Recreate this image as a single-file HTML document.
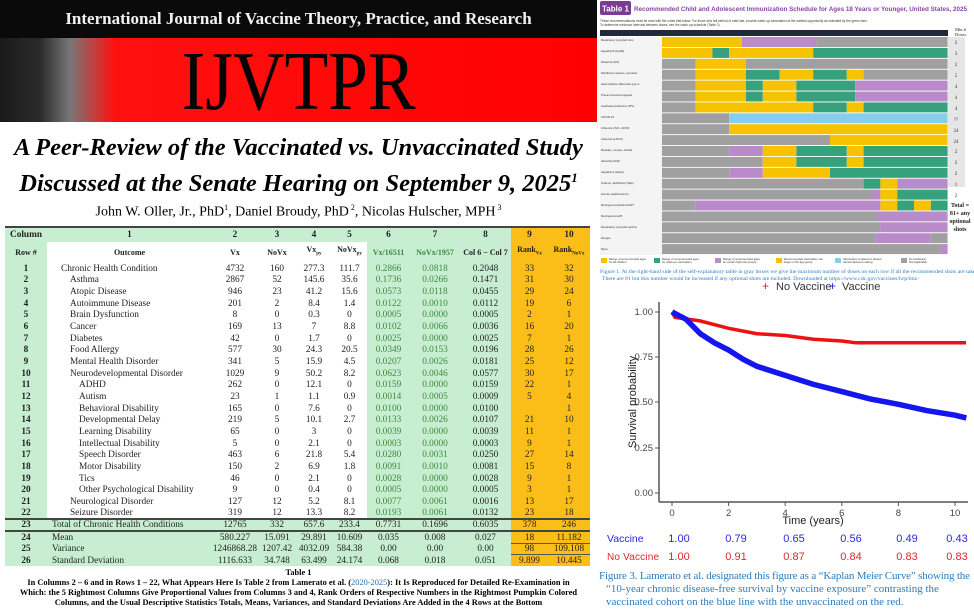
<!DOCTYPE html>
<html><head><meta charset="utf-8"><style>
*{margin:0;padding:0;box-sizing:border-box}
body{width:974px;height:611px;overflow:hidden;background:#fff;position:relative;font-family:"Liberation Serif",serif}
.abs{position:absolute}
#tbl{position:absolute;left:5px;top:226px;width:585px;border-collapse:collapse;table-layout:fixed;font-size:9.3px;font-family:"Liberation Serif",serif;color:#222}
#tbl td{height:11.67px;line-height:10px;padding:0;text-align:center;white-space:nowrap;overflow:hidden}
#tbl td.o{text-align:left}
#tbl tr.h td{font-size:8px;line-height:8px}
.g{background:#c8eed2}.w{background:#fff}.y{background:#fbbd17}
.gt{color:#3d8a3d}
.b{font-weight:bold}
tr.top td{border-top:2px solid #444}
</style></head><body>
<div class="abs" style="left:0;top:0;width:597px;height:38px;background:#0a0a0a"></div>
<div class="abs" style="left:0;top:9px;width:597px;text-align:center;color:#f2f2f2;font-weight:bold;font-size:17px;font-family:'Liberation Serif',serif">International Journal of Vaccine Theory, Practice, and Research</div>
<div class="abs" style="left:0;top:38px;width:597px;height:84px;background:linear-gradient(90deg,#1a1a1a 0px,#2a2a2a 40px,#777 70px,#ff1010 115px,#ff0000 100%)"></div>
<div class="abs" style="left:0;top:40px;width:597px;text-align:center;font-size:84px;line-height:84px;color:#050505;font-family:'Liberation Serif',serif;transform:scaleX(0.85)">IJVTPR</div>
<div class="abs" style="left:0;top:133px;width:597px;text-align:center;font-size:24.5px;font-weight:bold;font-style:italic;line-height:30px">A Peer-Review of the Vaccinated vs. Unvaccinated Study<br>Discussed at the Senate Hearing on September 9, 2025<sup style="font-size:13px">1</sup></div>
<div class="abs" style="left:0;top:203px;width:597px;text-align:center;font-size:14px">John W. Oller, Jr., PhD<sup style="font-size:8px">1</sup>, Daniel Broudy, PhD<sup style="font-size:8px"> 2</sup>, Nicolas Hulscher, MPH<sup style="font-size:8px"> 3</sup></div>

<table id="tbl">
<colgroup><col style="width:42px"><col style="width:165px"><col style="width:46px"><col style="width:38px"><col style="width:36px"><col style="width:35px"><col style="width:43px"><col style="width:50px"><col style="width:51px"><col style="width:37px"><col style="width:42px"></colgroup>
<tr class="top b"><td class="g" style="height:15px">Column</td><td class="g">1</td><td class="g">2</td><td class="g">3</td><td class="g">4</td><td class="g">5</td><td class="g">6</td><td class="g">7</td><td class="g">8</td><td class="y">9</td><td class="y">10</td></tr>
<tr class="b h"><td class="g" style="height:21px">Row #</td><td class="w">Outcome</td><td class="w">Vx</td><td class="w">NoVx</td><td class="w">Vx<sub style="font-size:5px">py</sub></td><td class="w">NoVx<sub style="font-size:5px">py</sub></td><td class="g gt">Vx/16511</td><td class="g gt">NoVx/1957</td><td class="g" style="white-space:normal">Col 6 − Col 7</td><td class="y">Rank<sub style="font-size:5px">Vx</sub></td><td class="y">Rank<sub style="font-size:5px">NoVx</sub></td></tr>
<tr><td class="g b">1</td><td class="w o" style="padding-left:14px">Chronic Health Condition</td><td class="w">4732</td><td class="w">160</td><td class="w">277.3</td><td class="w">111.7</td><td class="g gt">0.2866</td><td class="g gt">0.0818</td><td class="g">0.2048</td><td class="y">33</td><td class="y">32</td></tr>
<tr><td class="g b">2</td><td class="w o" style="padding-left:23px">Asthma</td><td class="w">2867</td><td class="w">52</td><td class="w">145.6</td><td class="w">35.6</td><td class="g gt">0.1736</td><td class="g gt">0.0266</td><td class="g">0.1471</td><td class="y">31</td><td class="y">30</td></tr>
<tr><td class="g b">3</td><td class="w o" style="padding-left:23px">Atopic Disease</td><td class="w">946</td><td class="w">23</td><td class="w">41.2</td><td class="w">15.6</td><td class="g gt">0.0573</td><td class="g gt">0.0118</td><td class="g">0.0455</td><td class="y">29</td><td class="y">24</td></tr>
<tr><td class="g b">4</td><td class="w o" style="padding-left:23px">Autoimmune Disease</td><td class="w">201</td><td class="w">2</td><td class="w">8.4</td><td class="w">1.4</td><td class="g gt">0.0122</td><td class="g gt">0.0010</td><td class="g">0.0112</td><td class="y">19</td><td class="y">6</td></tr>
<tr><td class="g b">5</td><td class="w o" style="padding-left:23px">Brain Dysfunction</td><td class="w">8</td><td class="w">0</td><td class="w">0.3</td><td class="w">0</td><td class="g gt">0.0005</td><td class="g gt">0.0000</td><td class="g">0.0005</td><td class="y">2</td><td class="y">1</td></tr>
<tr><td class="g b">6</td><td class="w o" style="padding-left:23px">Cancer</td><td class="w">169</td><td class="w">13</td><td class="w">7</td><td class="w">8.8</td><td class="g gt">0.0102</td><td class="g gt">0.0066</td><td class="g">0.0036</td><td class="y">16</td><td class="y">20</td></tr>
<tr><td class="g b">7</td><td class="w o" style="padding-left:23px">Diabetes</td><td class="w">42</td><td class="w">0</td><td class="w">1.7</td><td class="w">0</td><td class="g gt">0.0025</td><td class="g gt">0.0000</td><td class="g">0.0025</td><td class="y">7</td><td class="y">1</td></tr>
<tr><td class="g b">8</td><td class="w o" style="padding-left:23px">Food Allergy</td><td class="w">577</td><td class="w">30</td><td class="w">24.3</td><td class="w">20.5</td><td class="g gt">0.0349</td><td class="g gt">0.0153</td><td class="g">0.0196</td><td class="y">28</td><td class="y">26</td></tr>
<tr><td class="g b">9</td><td class="w o" style="padding-left:23px">Mental Health Disorder</td><td class="w">341</td><td class="w">5</td><td class="w">15.9</td><td class="w">4.5</td><td class="g gt">0.0207</td><td class="g gt">0.0026</td><td class="g">0.0181</td><td class="y">25</td><td class="y">12</td></tr>
<tr><td class="g b">10</td><td class="w o" style="padding-left:23px">Neurodevelopmental Disorder</td><td class="w">1029</td><td class="w">9</td><td class="w">50.2</td><td class="w">8.2</td><td class="g gt">0.0623</td><td class="g gt">0.0046</td><td class="g">0.0577</td><td class="y">30</td><td class="y">17</td></tr>
<tr><td class="g b">11</td><td class="w o" style="padding-left:32px">ADHD</td><td class="w">262</td><td class="w">0</td><td class="w">12.1</td><td class="w">0</td><td class="g gt">0.0159</td><td class="g gt">0.0000</td><td class="g">0.0159</td><td class="y">22</td><td class="y">1</td></tr>
<tr><td class="g b">12</td><td class="w o" style="padding-left:32px">Autism</td><td class="w">23</td><td class="w">1</td><td class="w">1.1</td><td class="w">0.9</td><td class="g gt">0.0014</td><td class="g gt">0.0005</td><td class="g">0.0009</td><td class="y">5</td><td class="y">4</td></tr>
<tr><td class="g b">13</td><td class="w o" style="padding-left:32px">Behavioral Disability</td><td class="w">165</td><td class="w">0</td><td class="w">7.6</td><td class="w">0</td><td class="g gt">0.0100</td><td class="g gt">0.0000</td><td class="g">0.0100</td><td class="y"></td><td class="y">1</td></tr>
<tr><td class="g b">14</td><td class="w o" style="padding-left:32px">Developmental Delay</td><td class="w">219</td><td class="w">5</td><td class="w">10.1</td><td class="w">2.7</td><td class="g gt">0.0133</td><td class="g gt">0.0026</td><td class="g">0.0107</td><td class="y">21</td><td class="y">10</td></tr>
<tr><td class="g b">15</td><td class="w o" style="padding-left:32px">Learning Disability</td><td class="w">65</td><td class="w">0</td><td class="w">3</td><td class="w">0</td><td class="g gt">0.0039</td><td class="g gt">0.0000</td><td class="g">0.0039</td><td class="y">11</td><td class="y">1</td></tr>
<tr><td class="g b">16</td><td class="w o" style="padding-left:32px">Intellectual Disability</td><td class="w">5</td><td class="w">0</td><td class="w">2.1</td><td class="w">0</td><td class="g gt">0.0003</td><td class="g gt">0.0000</td><td class="g">0.0003</td><td class="y">9</td><td class="y">1</td></tr>
<tr><td class="g b">17</td><td class="w o" style="padding-left:32px">Speech Disorder</td><td class="w">463</td><td class="w">6</td><td class="w">21.8</td><td class="w">5.4</td><td class="g gt">0.0280</td><td class="g gt">0.0031</td><td class="g">0.0250</td><td class="y">27</td><td class="y">14</td></tr>
<tr><td class="g b">18</td><td class="w o" style="padding-left:32px">Motor Disability</td><td class="w">150</td><td class="w">2</td><td class="w">6.9</td><td class="w">1.8</td><td class="g gt">0.0091</td><td class="g gt">0.0010</td><td class="g">0.0081</td><td class="y">15</td><td class="y">8</td></tr>
<tr><td class="g b">19</td><td class="w o" style="padding-left:32px">Tics</td><td class="w">46</td><td class="w">0</td><td class="w">2.1</td><td class="w">0</td><td class="g gt">0.0028</td><td class="g gt">0.0000</td><td class="g">0.0028</td><td class="y">9</td><td class="y">1</td></tr>
<tr><td class="g b">20</td><td class="w o" style="padding-left:32px">Other Psychological Disability</td><td class="w">9</td><td class="w">0</td><td class="w">0.4</td><td class="w">0</td><td class="g gt">0.0005</td><td class="g gt">0.0000</td><td class="g">0.0005</td><td class="y">3</td><td class="y">1</td></tr>
<tr><td class="g b">21</td><td class="w o" style="padding-left:23px">Neurological Disorder</td><td class="w">127</td><td class="w">12</td><td class="w">5.2</td><td class="w">8.1</td><td class="g gt">0.0077</td><td class="g gt">0.0061</td><td class="g">0.0016</td><td class="y">13</td><td class="y">17</td></tr>
<tr><td class="g b">22</td><td class="w o" style="padding-left:23px">Seizure Disorder</td><td class="w">319</td><td class="w">12</td><td class="w">13.3</td><td class="w">8.2</td><td class="g gt">0.0193</td><td class="g gt">0.0061</td><td class="g">0.0132</td><td class="y">23</td><td class="y">18</td></tr>
<tr class="top"><td class="g b">23</td><td class="g o" style="padding-left:5px">Total of Chronic Health Conditions</td><td class="g">12765</td><td class="g">332</td><td class="g">657.6</td><td class="g">233.4</td><td class="g">0.7731</td><td class="g">0.1696</td><td class="g">0.6035</td><td class="y">378</td><td class="y">246</td></tr>
<tr class="top"><td class="g b">24</td><td class="g o" style="padding-left:5px">Mean</td><td class="g">580.227</td><td class="g">15.091</td><td class="g">29.891</td><td class="g">10.609</td><td class="g">0.035</td><td class="g">0.008</td><td class="g">0.027</td><td class="y">18</td><td class="y">11.182</td></tr>
<tr><td class="g b">25</td><td class="g o" style="padding-left:5px">Variance</td><td class="g">1246868.28</td><td class="g">1207.42</td><td class="g">4032.09</td><td class="g">584.38</td><td class="g">0.00</td><td class="g">0.00</td><td class="g">0.00</td><td class="y" style="border-top:1px solid #555">98</td><td class="y" style="border-top:1px solid #555">109.108</td></tr>
<tr><td class="g b">26</td><td class="g o" style="padding-left:5px">Standard Deviation</td><td class="g">1116.633</td><td class="g">34.748</td><td class="g">63.499</td><td class="g">24.174</td><td class="g">0.068</td><td class="g">0.018</td><td class="g">0.051</td><td class="y" style="border-top:1px solid #555">9.899</td><td class="y" style="border-top:1px solid #555">10.445</td></tr>
</table>
<div class="abs" style="left:0;top:568px;width:597px;text-align:center;font-size:8.4px;font-weight:bold;line-height:10px;white-space:nowrap">Table 1<br>In Columns 2 – 6 and in Rows 1 – 22, What Appears Here Is Table 2 from Lamerato et al. (<span style="color:#2a6fb8;font-weight:normal">2020-2025</span>): It Is Reproduced for Detailed Re-Examination in<br>Which: the 5 Rightmost Columns Give Proportional Values from Columns 3 and 4, Rank Orders of Respective Numbers in the Rightmost Pumpkin Colored<br>Columns, and the Usual Descriptive Statistics Totals, Means, Variances, and Standard Deviations Are Added in the 4 Rows at the Bottom</div>

<svg class="abs" style="left:0;top:0" width="974" height="611" viewBox="0 0 974 611">
<rect x="600" y="1" width="31" height="14" rx="2" fill="#7b3a96"/>
<text x="602" y="11.5" font-family="Liberation Sans, sans-serif" font-size="8" font-weight="bold" fill="#fff">Table 1</text>
<text x="634" y="11" font-family="Liberation Sans, sans-serif" font-size="6.3" font-weight="bold" fill="#8a44a8">Recommended Child and Adolescent Immunization Schedule for Ages 18 Years or Younger, United States, 2025</text>
<text x="600" y="22" font-family="Liberation Sans, sans-serif" font-size="3.2" fill="#333">These recommendations must be read with the notes that follow. For those who fall behind or start late, provide catch-up vaccination at the earliest opportunity as indicated by the green bars.</text>
<text x="600" y="26" font-family="Liberation Sans, sans-serif" font-size="3.2" fill="#333">To determine minimum intervals between doses, see the catch-up schedule (Table 2).</text>
<rect x="600" y="30" width="348" height="6" fill="#1f2b3a"/>
<text x="955" y="31" font-size="4.5" fill="#222" font-family="Liberation Serif,serif">Min #</text>
<text x="955" y="36" font-size="4.5" fill="#222" font-family="Liberation Serif,serif">Doses</text>
<rect x="600" y="37" width="62" height="218" fill="#f4f4f4"/>
<g>
<g transform="translate(0,37)"><rect x="662" width="79.8" height="10" fill="#f7c300"/><rect x="741.8" width="74.8" height="10" fill="#b98bcb"/><rect x="816.6" width="131" height="10" fill="#a0a0a0"/></g>
<g transform="translate(0,47.9)"><rect x="662" width="50.4" height="10" fill="#f7c300"/><rect x="712.4" width="16.8" height="10" fill="#36a27d"/><rect x="729.2" width="84" height="10" fill="#f7c300"/><rect x="813.2" width="134.4" height="10" fill="#36a27d"/></g>
<g transform="translate(0,58.8)"><rect x="662" width="33.6" height="10" fill="#a0a0a0"/><rect x="695.6" width="50.4" height="10" fill="#f7c300"/><rect x="746" width="201.6" height="10" fill="#a0a0a0"/></g>
<g transform="translate(0,69.7)"><rect x="662" width="33.6" height="10" fill="#a0a0a0"/><rect x="695.6" width="50.4" height="10" fill="#f7c300"/><rect x="746" width="33.6" height="10" fill="#36a27d"/><rect x="779.6" width="33.6" height="10" fill="#f7c300"/><rect x="813.2" width="33.6" height="10" fill="#36a27d"/><rect x="846.8" width="16.8" height="10" fill="#f7c300"/><rect x="863.6" width="84" height="10" fill="#a0a0a0"/></g>
<g transform="translate(0,80.6)"><rect x="662" width="33.6" height="10" fill="#a0a0a0"/><rect x="695.6" width="50.4" height="10" fill="#f7c300"/><rect x="746" width="16.8" height="10" fill="#36a27d"/><rect x="762.8" width="33.6" height="10" fill="#f7c300"/><rect x="796.4" width="58.8" height="10" fill="#36a27d"/><rect x="855.2" width="92.4" height="10" fill="#b98bcb"/></g>
<g transform="translate(0,91.5)"><rect x="662" width="33.6" height="10" fill="#a0a0a0"/><rect x="695.6" width="50.4" height="10" fill="#f7c300"/><rect x="746" width="16.8" height="10" fill="#36a27d"/><rect x="762.8" width="33.6" height="10" fill="#f7c300"/><rect x="796.4" width="58.8" height="10" fill="#36a27d"/><rect x="855.2" width="92.4" height="10" fill="#b98bcb"/></g>
<g transform="translate(0,102.4)"><rect x="662" width="33.6" height="10" fill="#a0a0a0"/><rect x="695.6" width="117.6" height="10" fill="#f7c300"/><rect x="813.2" width="33.6" height="10" fill="#36a27d"/><rect x="846.8" width="16.8" height="10" fill="#f7c300"/><rect x="863.6" width="84" height="10" fill="#36a27d"/></g>
<g transform="translate(0,113.3)"><rect x="662" width="67.2" height="10" fill="#a0a0a0"/><rect x="729.2" width="218.4" height="10" fill="#86cdee"/></g>
<g transform="translate(0,124.2)"><rect x="662" width="67.2" height="10" fill="#a0a0a0"/><rect x="729.2" width="218.4" height="10" fill="#f7c300"/></g>
<g transform="translate(0,135.1)"><rect x="662" width="168" height="10" fill="#a0a0a0"/><rect x="830" width="117.6" height="10" fill="#f7c300"/></g>
<g transform="translate(0,146)"><rect x="662" width="67.2" height="10" fill="#a0a0a0"/><rect x="729.2" width="33.6" height="10" fill="#b98bcb"/><rect x="762.8" width="33.6" height="10" fill="#f7c300"/><rect x="796.4" width="50.4" height="10" fill="#36a27d"/><rect x="846.8" width="16.8" height="10" fill="#f7c300"/><rect x="863.6" width="84" height="10" fill="#36a27d"/></g>
<g transform="translate(0,156.9)"><rect x="662" width="100.8" height="10" fill="#a0a0a0"/><rect x="762.8" width="33.6" height="10" fill="#f7c300"/><rect x="796.4" width="50.4" height="10" fill="#36a27d"/><rect x="846.8" width="16.8" height="10" fill="#f7c300"/><rect x="863.6" width="84" height="10" fill="#36a27d"/></g>
<g transform="translate(0,167.8)"><rect x="662" width="67.2" height="10" fill="#a0a0a0"/><rect x="729.2" width="33.6" height="10" fill="#b98bcb"/><rect x="762.8" width="67.2" height="10" fill="#f7c300"/><rect x="830" width="117.6" height="10" fill="#36a27d"/></g>
<g transform="translate(0,178.7)"><rect x="662" width="201.6" height="10" fill="#a0a0a0"/><rect x="863.6" width="16.8" height="10" fill="#36a27d"/><rect x="880.4" width="16.8" height="10" fill="#f7c300"/><rect x="897.2" width="50.4" height="10" fill="#b98bcb"/></g>
<g transform="translate(0,189.6)"><rect x="662" width="210" height="10" fill="#a0a0a0"/><rect x="872" width="8.4" height="10" fill="#b98bcb"/><rect x="880.4" width="16.8" height="10" fill="#f7c300"/><rect x="897.2" width="50.4" height="10" fill="#36a27d"/></g>
<g transform="translate(0,200.5)"><rect x="662" width="33.6" height="10" fill="#a0a0a0"/><rect x="695.6" width="184.8" height="10" fill="#b98bcb"/><rect x="880.4" width="16.8" height="10" fill="#f7c300"/><rect x="897.2" width="16.8" height="10" fill="#36a27d"/><rect x="914" width="16.8" height="10" fill="#f7c300"/><rect x="930.8" width="16.8" height="10" fill="#36a27d"/></g>
<g transform="translate(0,211.4)"><rect x="662" width="215" height="10" fill="#a0a0a0"/><rect x="877" width="70.6" height="10" fill="#b98bcb"/></g>
<g transform="translate(0,222.3)"><rect x="662" width="218.4" height="10" fill="#a0a0a0"/><rect x="880.4" width="67.2" height="10" fill="#b98bcb"/></g>
<g transform="translate(0,233.2)"><rect x="662" width="213.4" height="10" fill="#a0a0a0"/><rect x="875.4" width="55.4" height="10" fill="#b98bcb"/><rect x="930.8" width="16.8" height="10" fill="#a0a0a0"/></g>
<g transform="translate(0,244.1)"><rect x="662" width="278.9" height="10" fill="#a0a0a0"/><rect x="940.9" width="6.7" height="10" fill="#b98bcb"/></g>
</g>
<rect x="948" y="37" width="17" height="150" fill="#e6e6e6"/>
<g font-family="Liberation Serif,serif" font-size="5" fill="#333" text-anchor="middle">
<text x="956" y="44">2</text><text x="956" y="55">3</text><text x="956" y="66">2</text><text x="956" y="77">5</text><text x="956" y="88">4</text><text x="956" y="99">4</text><text x="956" y="110">4</text><text x="956" y="121">??</text><text x="956" y="132">24</text><text x="956" y="143">24</text><text x="956" y="153">2</text><text x="956" y="164">2</text><text x="956" y="175">2</text><text x="956" y="186">1</text><text x="956" y="197">2</text>
</g>
<g font-family="Liberation Serif,serif" font-size="6" fill="#222" text-anchor="middle" font-weight="bold">
<text x="960" y="207">Total =</text><text x="960" y="215">81+ any</text><text x="960" y="223">optional</text><text x="960" y="231">shots</text>
</g>
<g font-family="Liberation Sans,sans-serif" font-size="2.8" fill="#333">
<text x="601" y="41">Respiratory syncytial virus</text><text x="601" y="52">Hepatitis B (HepB)</text><text x="601" y="63">Rotavirus (RV)</text><text x="601" y="74">Diphtheria, tetanus, pertussis</text><text x="601" y="85">Haemophilus influenzae type b</text><text x="601" y="96">Pneumococcal conjugate</text><text x="601" y="107">Inactivated poliovirus (IPV)</text><text x="601" y="118">COVID-19</text><text x="601" y="129">Influenza (IIV3, ccIIV3)</text><text x="601" y="140">Influenza (LAIV3)</text><text x="601" y="151">Measles, mumps, rubella</text><text x="601" y="162">Varicella (VAR)</text><text x="601" y="173">Hepatitis A (HepA)</text><text x="601" y="184">Tetanus, diphtheria (Tdap)</text><text x="601" y="195">Human papillomavirus</text><text x="601" y="206">Meningococcal MenACWY</text><text x="601" y="217">Meningococcal B</text><text x="601" y="228">Respiratory syncytial vaccine</text><text x="601" y="239">Dengue</text><text x="601" y="250">Mpox</text>
</g>
<g>
<rect x="601" y="258" width="6" height="5" fill="#f7c300"/><rect x="654" y="258" width="6" height="5" fill="#36a27d"/><rect x="715" y="258" width="6" height="5" fill="#b98bcb"/><rect x="776" y="258" width="6" height="5" fill="#f7c300"/><rect x="835" y="258" width="6" height="5" fill="#86cdee"/><rect x="901" y="258" width="6" height="5" fill="#a0a0a0"/>
<g font-family="Liberation Sans,sans-serif" font-size="2.8" fill="#333"><text x="609" y="260">Range of recommended ages</text><text x="609" y="263">for all children</text><text x="662" y="260">Range of recommended ages</text><text x="662" y="263">for catch-up vaccination</text><text x="723" y="260">Range of recommended ages</text><text x="723" y="263">for certain high-risk groups</text><text x="784" y="260">Recommended vaccination can</text><text x="784" y="263">begin in this age group</text><text x="843" y="260">Vaccination is based on shared</text><text x="843" y="263">clinical decision-making</text><text x="909" y="260">No Guidance/</text><text x="909" y="263">Not Applicable</text></g>
</g>
<g font-family="Liberation Serif,serif" font-size="5.7" fill="#2a7cc0">
<text x="600" y="273">Figure 1. At the right-hand side of the self-explanatory table in gray boxes we give the maximum number of doses on each row if all the recommended shots are taken.</text>
<text x="602" y="280">There are 81 but this number would be increased if any optional shots are included. Downloaded at https://www.cdc.gov/vaccines/hcp/imz-</text>
</g>
<g font-family="Liberation Sans,sans-serif" font-size="11" fill="#333">
<text x="762" y="290" fill="#e02020" font-size="12">+</text><text x="776" y="290">No Vaccine</text>
<text x="829" y="290" fill="#2020e0" font-size="12">+</text><text x="842" y="290">Vaccine</text>
</g>
<line x1="659" y1="302" x2="659" y2="502" stroke="#555" stroke-width="1.5"/>
<line x1="659" y1="502" x2="968" y2="502" stroke="#555" stroke-width="1.5"/>
<g stroke="#555" stroke-width="1">
<line x1="655" y1="312" x2="659" y2="312"/><line x1="655" y1="357" x2="659" y2="357"/><line x1="655" y1="402" x2="659" y2="402"/><line x1="655" y1="448" x2="659" y2="448"/><line x1="655" y1="493" x2="659" y2="493"/>
<line x1="672" y1="502" x2="672" y2="506"/><line x1="728.6" y1="502" x2="728.6" y2="506"/><line x1="785.2" y1="502" x2="785.2" y2="506"/><line x1="841.8" y1="502" x2="841.8" y2="506"/><line x1="898.4" y1="502" x2="898.4" y2="506"/><line x1="955" y1="502" x2="955" y2="506"/>
</g>
<g font-family="Liberation Sans,sans-serif" font-size="9.5" fill="#444" text-anchor="end">
<text x="653" y="315">1.00</text><text x="653" y="360">0.75</text><text x="653" y="405">0.50</text><text x="653" y="451">0.25</text><text x="653" y="496">0.00</text>
</g>
<g font-family="Liberation Sans,sans-serif" font-size="9.5" fill="#444" text-anchor="middle">
<text x="672" y="516">0</text><text x="728.6" y="516">2</text><text x="785.2" y="516">4</text><text x="841.8" y="516">6</text><text x="898.4" y="516">8</text><text x="955" y="516">10</text>
</g>
<text x="813" y="524" font-family="Liberation Sans,sans-serif" font-size="11" fill="#222" text-anchor="middle">Time (years)</text>
<text transform="translate(636,402) rotate(-90)" font-family="Liberation Sans,sans-serif" font-size="11" fill="#222" text-anchor="middle">Survival probability</text>
<polyline fill="none" stroke="#ee1111" stroke-width="3.5" points="672,312 675,317.4 700,320.9 728.6,328.3 756.9,333.7 785.2,335.5 813.5,339.2 841.8,341 856,342.8 966,342.8"/>
<polyline fill="none" stroke="#1515ee" stroke-width="5.5" points="672,312 686,319.2 700.3,333.7 714.5,342.8 728.6,350 742.8,359.1 756.9,366.3 785.2,375.4 813.5,384.4 841.8,391.6 870.1,398.9 898.4,404.3 926.7,410.6 955,415.2 966.3,417.9"/>
<g font-family="Liberation Sans,sans-serif" font-size="11" fill="#2a2ae0" text-anchor="middle">
<text x="607" y="542" text-anchor="start" font-size="10.5">Vaccine</text><text x="679" y="542">1.00</text><text x="736" y="542">0.79</text><text x="794" y="542">0.65</text><text x="851" y="542">0.56</text><text x="907" y="542">0.49</text><text x="957" y="542">0.43</text>
</g>
<g font-family="Liberation Sans,sans-serif" font-size="11" fill="#e02828" text-anchor="middle">
<text x="607" y="560" text-anchor="start" font-size="10" textLength="52">No Vaccine</text><text x="679" y="560">1.00</text><text x="736" y="560">0.91</text><text x="794" y="560">0.87</text><text x="851" y="560">0.84</text><text x="907" y="560">0.83</text><text x="957" y="560">0.83</text>
</g>
<g font-family="Liberation Serif,serif" font-size="11" fill="#2a7cc0">
<text x="599" y="579" textLength="371">Figure 3. Lamerato et al. designated this figure as a “Kaplan Meier Curve” showing the</text>
<text x="606" y="592">“10-year chronic disease-free survival by vaccine exposure” contrasting the</text>
<text x="606" y="605">vaccinated cohort on the blue line with the unvaccinated on the red.</text>
</g>
</svg>
</body></html>
